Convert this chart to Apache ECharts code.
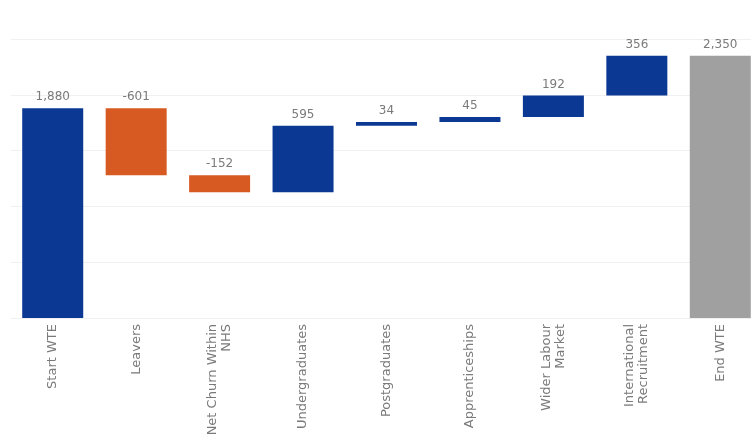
<!DOCTYPE html>
<html>
<head>
<meta charset="utf-8">
<script src="https://cdn.jsdelivr.net/npm/echarts@6/dist/echarts.min.js"></script>
<style>
  html, body { margin: 0; padding: 0; background: #ffffff; overflow: hidden; }
  /* canvas runs a little past the right edge of the page so the last bar is clipped */
  #chart { width: 762px; height: 439px; }
</style>
</head>
<body>
<div id="chart"></div>
<script>
// Workforce bridge: starting WTE, movements in and out, ending WTE
const categories = [
  'Start WTE', 'Leavers', 'Net Churn Within\nNHS', 'Undergraduates',
  'Postgraduates', 'Apprenticeships', 'Wider Labour\nMarket',
  'International\nRecruitment', 'End WTE'
];
const startValue = 1880;
const changes = [-601, -152, 595, 34, 45, 192, 356];
const endValue = 2350;

const BLUE = '#0a3893';
const ORANGE = '#d75a22';
const GREY = '#a0a0a0';

// Build floating bars: invisible base + visible segment
const baseData = [];
const barData = [];
const labelText = [];

baseData.push(0);
barData.push({ value: startValue, itemStyle: { color: BLUE } });
labelText.push(startValue);

let running = startValue;
changes.forEach(function (d) {
  const next = running + d;
  baseData.push(Math.min(running, next));
  barData.push({ value: Math.abs(d), itemStyle: { color: d < 0 ? ORANGE : BLUE } });
  labelText.push(d);
  running = next;
});

baseData.push(0);
barData.push({ value: endValue, itemStyle: { color: GREY } });
labelText.push(endValue);

function fmt(v) {
  const s = Math.abs(v).toLocaleString('en-US');
  return v < 0 ? '-' + s : s;
}

const chart = echarts.init(document.getElementById('chart'), null, { renderer: 'canvas' });
chart.setOption({
  animation: false,
  backgroundColor: '#ffffff',
  grid: { left: 11, top: 39, right: 0, bottom: 121, containLabel: false },
  xAxis: {
    type: 'category',
    data: categories,
    axisLine: { show: false },
    axisTick: { show: false },
    axisLabel: {
      rotate: 90,
      interval: 0,
      margin: 6,
      color: '#7a7a7a',
      fontFamily: 'DejaVu Sans',
      fontSize: 13,
      lineHeight: 14
    }
  },
  yAxis: {
    type: 'value',
    min: 0,
    max: 2500,
    interval: 500,
    axisLabel: { show: false },
    axisLine: { show: false },
    axisTick: { show: false },
    splitLine: { lineStyle: { color: '#f0f0f0', width: 1 } }
  },
  series: [
    {
      type: 'bar',
      stack: 'bridge',
      barWidth: 61,
      itemStyle: { color: 'transparent' },
      emphasis: { disabled: true },
      data: baseData
    },
    {
      type: 'bar',
      stack: 'bridge',
      barWidth: 61,
      data: barData,
      label: {
        show: true,
        position: 'top',
        distance: 5,
        color: '#7a7a7a',
        fontFamily: 'DejaVu Sans',
        fontSize: 12,
        formatter: function (p) { return fmt(labelText[p.dataIndex]); }
      }
    }
  ]
});
</script>
</body>
</html>
